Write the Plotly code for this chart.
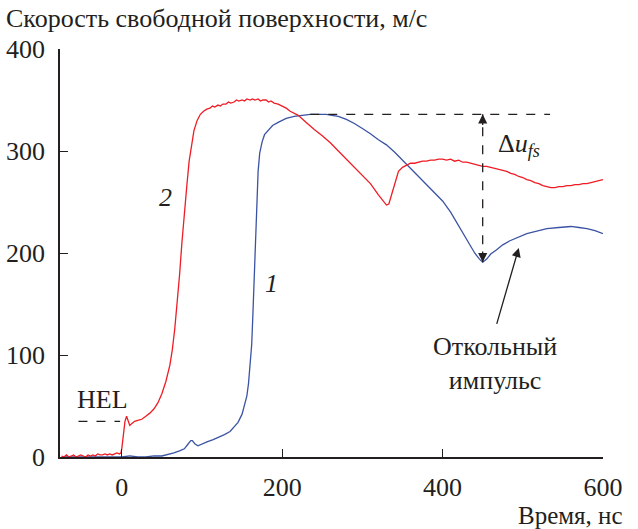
import plotly.graph_objects as go

# Free-surface velocity traces, time in ns, velocity in m/s
t_2 = [-75, -72, -69, -66, -63, -60, -57, -54, -51, -48, -45, -42, -39, -36, -33, -30,
       -27, -24, -21, -18, -15, -12, -9, -6, -3, -1, 0, 2, 4, 6, 8, 10, 13, 16, 20, 25,
       30, 35, 40, 45, 50, 55, 60, 63, 66, 69, 72, 75, 78, 81, 84, 87, 90, 94, 98, 102,
       106, 110, 113, 116, 120, 123, 126, 130, 133, 136, 140, 143, 146, 150, 153, 156,
       160, 163, 166, 170, 173, 176, 180, 183, 186, 190, 195, 200, 205, 210, 215, 220,
       230, 240, 250, 260, 270, 280, 290, 300, 310, 320, 325, 330, 333, 336, 340, 345,
       350, 355, 360, 365, 370, 375, 380, 385, 390, 395, 400, 405, 410, 415, 420, 425,
       430, 435, 440, 445, 450, 455, 460, 465, 470, 475, 480, 485, 490, 495, 500, 505,
       510, 515, 520, 525, 530, 535, 540, 545, 550, 555, 560, 565, 570, 575, 580, 585,
       590, 595, 600]
v_2 = [1, 0, 2, 0, 1, 2, 0, 1, 2, 1, 0, 2, 1, 2, 1, 3,
       2, 2, 3, 2, 3, 2, 3, 4, 3, 4, 8, 22, 35, 40, 36, 31, 33, 35, 36, 37,
       40, 43, 47, 53, 62, 74, 90, 105, 125, 150, 178, 210, 240, 265, 290, 307, 320, 330, 336, 339,
       341, 342, 344, 343, 345, 344, 346, 346, 348, 347, 348, 350, 349, 350, 349, 351,
       350, 351, 350, 351, 349, 350, 350, 348, 349, 347, 346, 344, 342, 339, 337, 335,
       328, 321, 315, 308, 300, 292, 283, 275, 268, 257, 252, 247, 248, 256, 268, 280,
       284, 286, 288, 288, 289, 290, 290, 291, 291, 292, 292, 291, 292, 290, 291, 289,
       289, 288, 287, 286, 285, 285, 284, 283, 282, 281, 280, 278, 277, 275, 274, 272,
       271, 269, 268, 266, 265, 264, 264, 265, 265, 266, 266, 267, 267, 268, 268, 269,
       270, 271, 272]

t_1 = [-75, -60, -40, -20, 0, 10, 20, 30, 40, 50, 56, 65, 72, 78, 82, 86, 88, 91, 95,
       100, 107, 114, 120, 128, 135, 140, 145, 150, 153, 156, 158, 160, 162, 163.5, 165,
       166.5, 168, 170, 172, 175, 178, 183, 188, 195, 205, 215, 225, 235, 245, 255, 262,
       270, 280, 290, 300, 310, 320, 330, 340, 350, 360, 370, 380, 390, 400, 410, 420,
       430, 440, 446, 450, 455, 460, 467, 475, 484, 495, 505, 515, 530, 545, 560, 570,
       580, 590, 600]
v_1 = [0, 0, 0, 0, 0, 1, 0, 0, 1, 1, 2, 4, 6, 8, 12, 16, 16, 13, 11,
       13, 15, 17, 19, 22, 25, 29, 34, 42, 50, 60, 72, 88, 110, 140, 175,
       215, 255, 280, 298, 309, 316, 321, 325, 328, 332, 334, 335, 336, 336, 336, 335,
       334, 331, 327, 322, 317, 311, 306, 299, 291, 284, 276, 267, 259, 251, 240, 227,
       213, 200, 194, 191, 194, 199, 203, 208, 212, 216, 219, 221, 224, 225, 226, 225,
       224, 222, 219]

x_ticks = [0, 200, 400, 600]
y_ticks = [0, 100, 200, 300, 400]

# Hugoniot elastic limit marker
hel_level = 35
hel_span = [-54, -2]

SERIF = "Liberation Serif"
INK = "#231f20"
RED = "#ee1c25"
BLUE = "#3b53a4"


def serif(size=26):
    return dict(family=SERIF, size=size, color=INK)


fig = go.Figure()
fig.add_trace(go.Scatter(x=t_1, y=v_1, mode="lines",
                         line=dict(color=BLUE, width=1.3), showlegend=False))
fig.add_trace(go.Scatter(x=t_2, y=v_2, mode="lines",
                         line=dict(color=RED, width=1.3), showlegend=False))

# Pullback velocity: from the plateau of trace 1 down to its spall minimum
v_top = max(v_1)
i_top = v_1.index(v_top)
post = range(i_top, len(v_1))
i_min = min(post, key=lambda i: v_1[i])
v_min = v_1[i_min]
t_min = t_1[i_min]

fig.add_shape(type="line", x0=t_1[i_top], x1=534, y0=v_top, y1=v_top,
              line=dict(color=INK, width=1.3, dash="dash"))
fig.add_shape(type="line", x0=t_min, x1=t_min, y0=v_min, y1=v_top,
              line=dict(color=INK, width=1.3, dash="dash"))
for y_tip, y_tail in [(v_top, v_top - 12), (v_min, v_min + 12)]:
    fig.add_annotation(x=t_min, y=y_tip, ax=t_min, ay=y_tail, axref="x", ayref="y",
                       xref="x", yref="y", text="", showarrow=True,
                       arrowhead=2, arrowsize=1.4, arrowwidth=1.3, arrowcolor=INK)
fig.add_annotation(x=t_min + 17, y=(v_top + v_min) / 2 + 42, xref="x", yref="y",
                   text="Δ<i>u</i><sub><i>fs</i></sub>", showarrow=False,
                   xanchor="left", font=serif())

# HEL
fig.add_shape(type="line", x0=hel_span[0], x1=hel_span[1], y0=hel_level, y1=hel_level,
              line=dict(color=INK, width=1.3, dash="dash"))
fig.add_annotation(x=-24, y=hel_level + 21, xref="x", yref="y", text="HEL",
                   showarrow=False, font=serif())

# Curve numbers
fig.add_annotation(x=54, y=254, xref="x", yref="y", text="<i>2</i>", showarrow=False,
                   font=serif())
fig.add_annotation(x=187, y=170, xref="x", yref="y", text="<i>1</i>", showarrow=False,
                   font=serif())

# Spall pulse callout
fig.add_annotation(x=495, y=205, ax=467, ay=129, axref="x", ayref="y",
                   xref="x", yref="y", text="", showarrow=True,
                   arrowhead=2, arrowsize=1.4, arrowwidth=1.3, arrowcolor=INK)
fig.add_annotation(x=465, y=92, xref="x", yref="y", text="Откольный<br>импульс",
                   showarrow=False, align="center", font=serif())

# Axis titles
fig.add_annotation(x=0, y=1, xref="paper", yref="paper",
                   text="Скорость свободной поверхности, м/с",
                   showarrow=False, xanchor="left", yanchor="middle",
                   xshift=-56, yshift=31, font=serif())
fig.add_annotation(x=1, y=0, xref="paper", yref="paper", text="Время, нс",
                   showarrow=False, xanchor="right", yanchor="middle",
                   xshift=22, yshift=-58, font=serif(25))

fig.update_layout(
    width=638, height=529,
    margin=dict(l=60, r=35, t=49, b=72),
    paper_bgcolor="white", plot_bgcolor="white",
    xaxis=dict(range=[-77, 600], tickvals=x_ticks, ticks="inside", ticklen=8,
               tickwidth=1.3, tickcolor=INK, showline=True, linecolor=INK, linewidth=1.5,
               showgrid=False, zeroline=False, ticklabelstandoff=6, tickfont=serif(),
               automargin=False),
    yaxis=dict(range=[0, 400], tickvals=y_ticks, ticks="inside", ticklen=8,
               tickwidth=1.3, tickcolor=INK, showline=True, linecolor=INK, linewidth=1.5,
               showgrid=False, zeroline=False, ticklabelstandoff=8, tickfont=serif(),
               automargin=False),
)
fig.write_html("out.html")
